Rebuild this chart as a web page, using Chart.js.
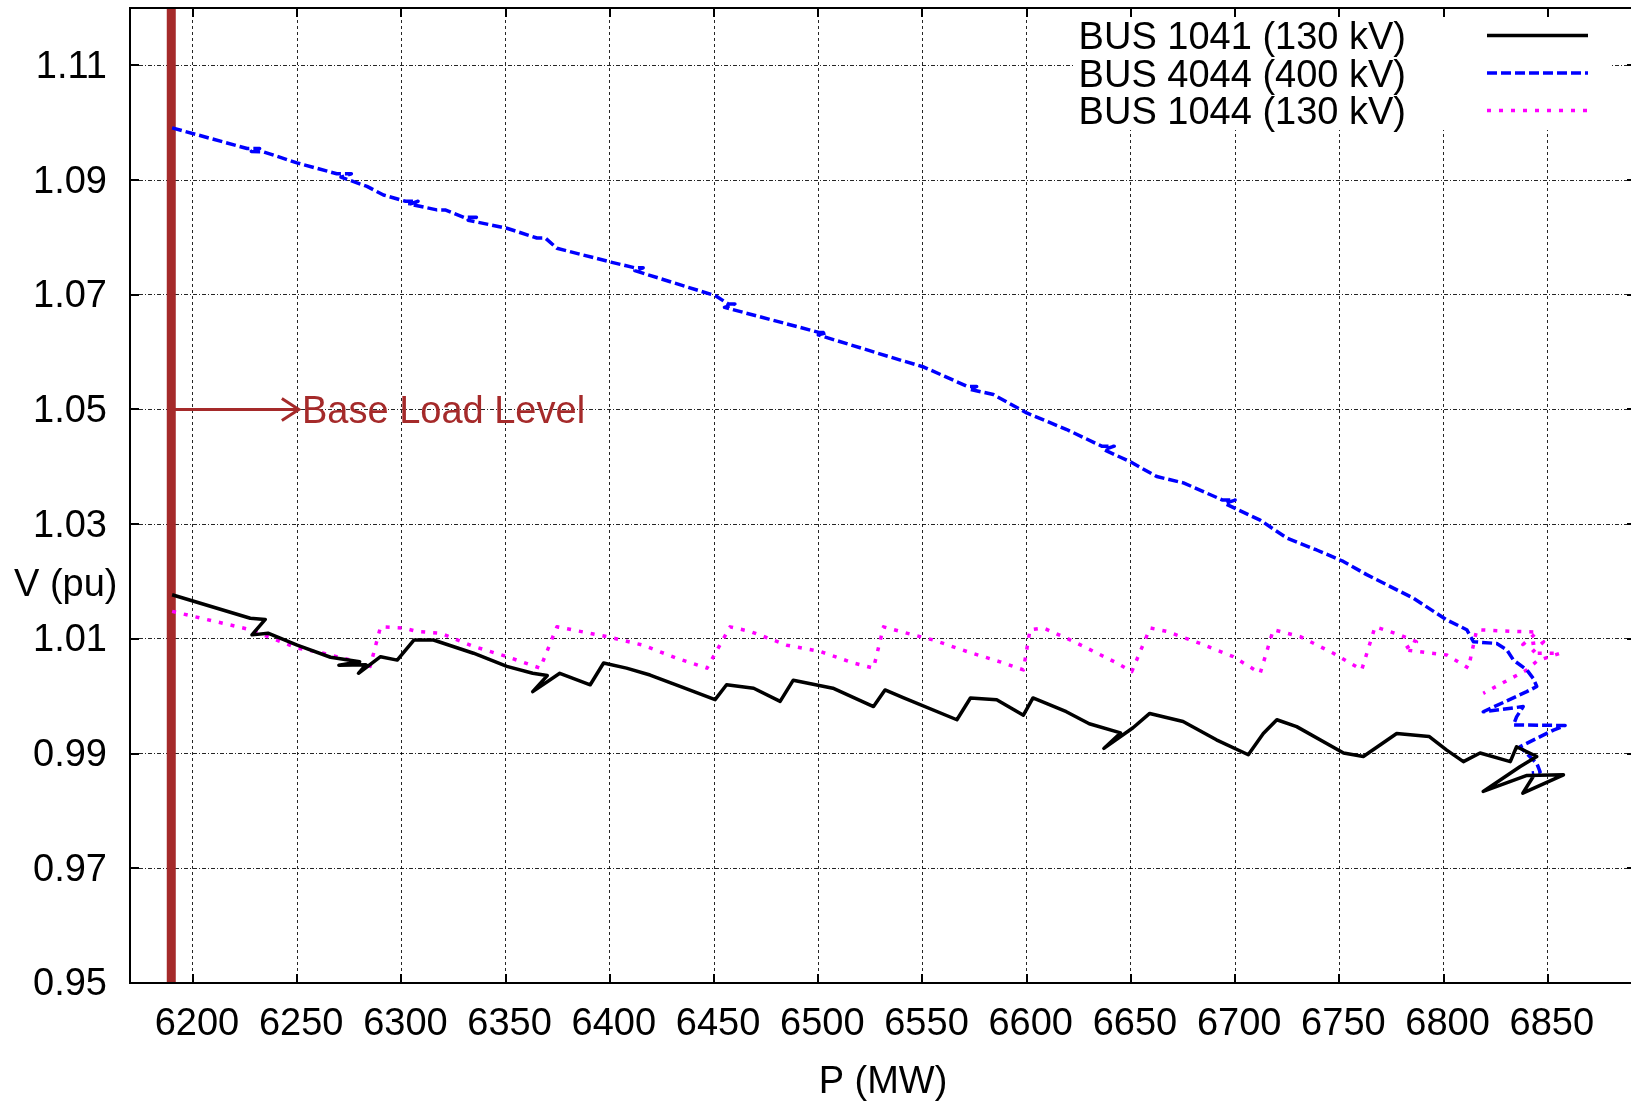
<!DOCTYPE html>
<html>
<head>
<meta charset="utf-8">
<script src="https://cdn.jsdelivr.net/npm/chart.js@4.4.0/dist/chart.umd.min.js"></script>
<style>
html,body{margin:0;padding:0;background:#fff;overflow:hidden;}
#wrap{position:absolute;left:0;top:0;width:1645px;height:1101px;}
</style>
</head>
<body>
<div id="wrap"><canvas id="c"></canvas></div>
<script>
// ---------- data ----------
const xTicks = [6200,6250,6300,6350,6400,6450,6500,6550,6600,6650,6700,6750,6800,6850];
const yTicks = [0.95,0.97,0.99,1.01,1.03,1.05,1.07,1.09,1.11];
const xRange = [6169.8, 6892.3];
const yRange = [0.95, 1.12];
const xTitle = 'P (MW)';
const yTitle = 'V (pu)';
const seriesNames = ['BUS 1041 (130 kV)', 'BUS 4044 (400 kV)', 'BUS 1044 (130 kV)'];

const p1041 = [6190,6227.5,6234.7,6228.3,6236,6250,6266,6280,6270,6283,
  6279.4,6290,6298,6306,6315.4,6334.6,6350.6,6363,6370,6363,
  6376,6390.6,6397,6408,6419.3,6433.7,6450.5,6456,6469,6481.7,
  6488,6507,6526.5,6532,6541,6566.5,6573,6585.6,6598.4,6603,
  6619,6630,6645,6637,6651,6659,6675,6691,6706.3,6713.5,
  6720,6729.5,6752,6761.5,6777.5,6793,6801.5,6809.5,6817.5,6832,
  6835,6844.7,6836.6,6819,6840,6857.5,6838,6843];
const v1041 = [1.0177,1.0136,1.0134,1.0107,1.0110,1.0089,1.0068,1.0060,1.0054,1.0055,
  1.0040,1.0069,1.0063,1.0098,1.0098,1.0075,1.0052,1.0040,1.0036,1.0008,
  1.0040,1.0020,1.0058,1.0049,1.0037,1.0017,0.9994,1.0020,1.0014,0.9991,
  1.0028,1.0014,0.9982,1.0011,0.9997,0.9959,0.9997,0.9994,0.9967,0.9997,
  0.9973,0.9952,0.9936,0.9909,0.9945,0.9970,0.9956,0.9924,0.9898,0.9935,
  0.9959,0.9947,0.9901,0.9895,0.9935,0.9930,0.9906,0.9886,0.9901,0.9886,
  0.9912,0.9895,0.9877,0.9834,0.9862,0.9863,0.9831,0.9860];

const p4044 = [6190,6226,6232,6228,6234,6249.9,6269,6276,6271,6283.5,
  6291.4,6302,6308,6304,6317,6321,6330,6336,6332,6350.6,
  6365,6369,6374.6,6400.5,6412,6416,6412,6450.9,6456.8,6460,
  6455,6500.7,6504,6500,6536.7,6550.6,6571.6,6576,6573,6584,
  6600,6619.2,6636,6642,6637,6649.6,6662.4,6675.2,6694,6700,
  6695,6712,6724.7,6739.1,6751.9,6763.1,6785.5,6801.5,6811.1,6814.3,
  6825.5,6830.3,6833.5,6839.9,6843,6844.7,6839.9,6819,6838.2,6835,
  6833.5,6858.3,6852.7,6836.6,6839.9,6844.7,6846.3,6842.3];
const v4044 = [1.0991,1.0955,1.0955,1.0950,1.0949,1.0930,1.0911,1.0911,1.0905,1.0889,
  1.0874,1.0863,1.0863,1.0858,1.0848,1.0848,1.0835,1.0835,1.0830,1.0816,
  1.0799,1.0799,1.0781,1.0757,1.0747,1.0747,1.0742,1.0698,1.0684,1.0684,
  1.0678,1.0634,1.0634,1.0630,1.0589,1.0574,1.0540,1.0540,1.0535,1.0526,
  1.0494,1.0465,1.0436,1.0436,1.0430,1.0409,1.0383,1.0372,1.0342,1.0342,
  1.0336,1.0307,1.0276,1.0255,1.0235,1.0212,1.0171,1.0133,1.0116,1.0095,
  1.0092,1.0081,1.0063,1.0046,1.0031,1.0017,1.0008,0.9973,0.9982,0.9964,
  0.9950,0.9949,0.9941,0.9912,0.9900,0.9883,0.9868,0.9866];

const p1044 = [6190,6227.5,6250,6262.6,6275.5,6285,6290,6301,6307.4,6318.6,
  6334.6,6350.6,6366.6,6374.6,6398.6,6416,6432.2,6446.6,6457.7,6467.3,
  6484.9,6500.9,6516.9,6526.5,6531.3,6539.3,6555.2,6571.3,6587.2,6598.4,
  6601.6,6608,6619.2,6627.2,6643.2,6650.4,6659.2,6667.2,6683.2,6699.1,
  6712,6718.3,6731.2,6747.1,6760.7,6767.1,6779,6787,6780.7,6801.5,
  6811.9,6815.9,6833.5,6845,6838,6848,6842,6856,6845,6840,
  6819];
const v1044 = [1.0148,1.0116,1.0084,1.0075,1.0063,1.0052,1.0121,1.0119,1.0113,1.0110,
  1.0087,1.0069,1.0049,1.0121,1.0104,1.0089,1.0066,1.0049,1.0121,1.0113,
  1.0089,1.0078,1.0058,1.0049,1.0121,1.0113,1.0098,1.0078,1.0060,1.0046,
  1.0116,1.0119,1.0101,1.0087,1.0058,1.0043,1.0119,1.0113,1.0092,1.0069,
  1.0040,1.0116,1.0104,1.0075,1.0046,1.0121,1.0107,1.0095,1.0081,1.0072,
  1.0049,1.0116,1.0113,1.0112,1.0090,1.0095,1.0075,1.0075,1.0062,1.0046,
  1.0005];

const baseLoadP = 6189.6;
const baseLoadArrowV = 1.05;
const baseLoadArrowEndP = 6250.8;
const baseLoadTextP = 6252.3;
const baseLoadLabel = 'Base Load Level';

// ---------- styles ----------
const FONT = '"Liberation Sans", Arial, Helvetica, sans-serif';
const FSIZE = 38;
const BROWN = '#a52a2a';
const colors = ['#000000', '#0000ff', '#ff00ff'];
const dashes = [[], [10, 4], [4, 8]];
const widths = [3.5, 3.5, 3.5];

const toXY = (ps, vs) => ps.map((p, i) => ({x: p, y: vs[i]}));

const frameAndTicks = {
  id: 'frameAndTicks',
  afterDraw(chart) {
    const {ctx, chartArea: a, scales: {x, y}} = chart;
    ctx.save();
    ctx.setLineDash([]);
    ctx.strokeStyle = '#000';
    ctx.lineWidth = 2;
    ctx.strokeRect(a.left, a.top, a.right - a.left, a.bottom - a.top);
    ctx.beginPath();
    xTicks.forEach(v => {
      const px = Math.round(x.getPixelForValue(v));
      ctx.moveTo(px, a.bottom); ctx.lineTo(px, a.bottom - 9);
      ctx.moveTo(px, a.top); ctx.lineTo(px, a.top + 9);
    });
    yTicks.forEach(v => {
      const py = Math.round(y.getPixelForValue(v));
      ctx.moveTo(a.left, py); ctx.lineTo(a.left + 9, py);
      ctx.moveTo(a.right, py); ctx.lineTo(a.right - 9, py);
    });
    ctx.stroke();
    // axis titles
    ctx.fillStyle = '#000';
    ctx.font = FSIZE + 'px ' + FONT;
    ctx.textBaseline = 'alphabetic';
    ctx.textAlign = 'left';
    ctx.fillText(yTitle, 14, 596);
    ctx.textAlign = 'center';
    ctx.fillText(xTitle, (a.left + a.right) / 2, 1093);
    // base load annotation
    const ty = y.getPixelForValue(baseLoadArrowV);
    const tip = x.getPixelForValue(baseLoadArrowEndP);
    ctx.strokeStyle = BROWN;
    ctx.lineWidth = 3;
    ctx.lineJoin = 'miter';
    ctx.beginPath();
    ctx.moveTo(tip - 17, ty - 11); ctx.lineTo(tip, ty); ctx.lineTo(tip - 17, ty + 11);
    ctx.stroke();
    ctx.fillStyle = BROWN;
    ctx.textAlign = 'left';
    ctx.fillText(baseLoadLabel, x.getPixelForValue(baseLoadTextP), ty + 14);
    ctx.restore();
  }
};

const keyBox = {
  id: 'keyBox',
  afterDatasetsDraw(chart) {
    const {ctx} = chart;
    ctx.save();
    ctx.fillStyle = '#fff';
    ctx.fillRect(1073, 10, 537, 120);
    ctx.font = FSIZE + 'px ' + FONT;
    ctx.textAlign = 'right';
    ctx.textBaseline = 'alphabetic';
    const rows = [35.5, 73, 110.5];
    seriesNames.forEach((name, i) => {
      ctx.fillStyle = '#000';
      ctx.fillText(name, 1406, rows[i] + 13.6);
      ctx.strokeStyle = colors[i];
      ctx.lineWidth = 3.5;
      ctx.setLineDash(dashes[i]);
      ctx.beginPath();
      ctx.moveTo(1487, rows[i]); ctx.lineTo(1588, rows[i]);
      ctx.stroke();
    });
    ctx.restore();
  }
};

const mkSeries = (i, ps, vs) => ({
  label: seriesNames[i],
  data: toXY(ps, vs),
  showLine: true,
  borderColor: colors[i],
  backgroundColor: colors[i],
  borderWidth: widths[i],
  borderDash: dashes[i],
  borderJoinStyle: 'round',
  pointRadius: 0,
  pointHoverRadius: 0,
  tension: 0,
  fill: false
});

new Chart(document.getElementById('c'), {
  type: 'scatter',
  data: {
    datasets: [
      mkSeries(0, p1041, v1041),
      mkSeries(1, p4044, v4044),
      mkSeries(2, p1044, v1044),
      {
        label: 'base load', data: [{x: baseLoadP, y: yRange[0]}, {x: baseLoadP, y: yRange[1]}],
        showLine: true, borderColor: BROWN, borderWidth: 9, pointRadius: 0, borderCapStyle: 'butt'
      },
      {
        label: 'arrow', data: [{x: baseLoadP, y: baseLoadArrowV}, {x: baseLoadArrowEndP, y: baseLoadArrowV}],
        showLine: true, borderColor: BROWN, borderWidth: 3, pointRadius: 0
      }
    ]
  },
  options: {
    responsive: true,
    maintainAspectRatio: false,
    animation: false,
    devicePixelRatio: 1,
    layout: {padding: {left: 0, right: 9, top: 8, bottom: 0}},
    plugins: {legend: {display: false}, tooltip: {enabled: false}},
    events: [],
    scales: {
      x: {
        type: 'linear',
        min: xRange[0], max: xRange[1],
        afterBuildTicks: s => { s.ticks = xTicks.map(v => ({value: v})); },
        afterFit: s => { s.height = 118; s.paddingLeft = 0; s.paddingRight = 0; },
        ticks: {
          autoSkip: false, maxRotation: 0, padding: 19, labelOffset: 4,
          color: '#000', font: {family: FONT, size: FSIZE},
          callback: v => String(v)
        },
        grid: {color: 'rgba(0,0,0,0.85)', lineWidth: 1, drawTicks: false, borderDash: [3, 3]},
        border: {display: false, dash: [3, 3]}
      },
      y: {
        type: 'linear',
        min: yRange[0], max: yRange[1],
        afterBuildTicks: s => { s.ticks = yTicks.map(v => ({value: v})); },
        afterFit: s => { s.width = 130; s.paddingTop = 0; s.paddingBottom = 0; },
        ticks: {
          autoSkip: false, padding: 23, labelOffset: 2,
          color: '#000', font: {family: FONT, size: FSIZE},
          callback: v => v.toFixed(2)
        },
        grid: {color: 'rgba(0,0,0,0.85)', lineWidth: 1, drawTicks: false, borderDash: [4, 2, 1, 2]},
        border: {display: false, dash: [4, 2, 1, 2]}
      }
    }
  },
  plugins: [keyBox, frameAndTicks]
});
</script>
</body>
</html>
